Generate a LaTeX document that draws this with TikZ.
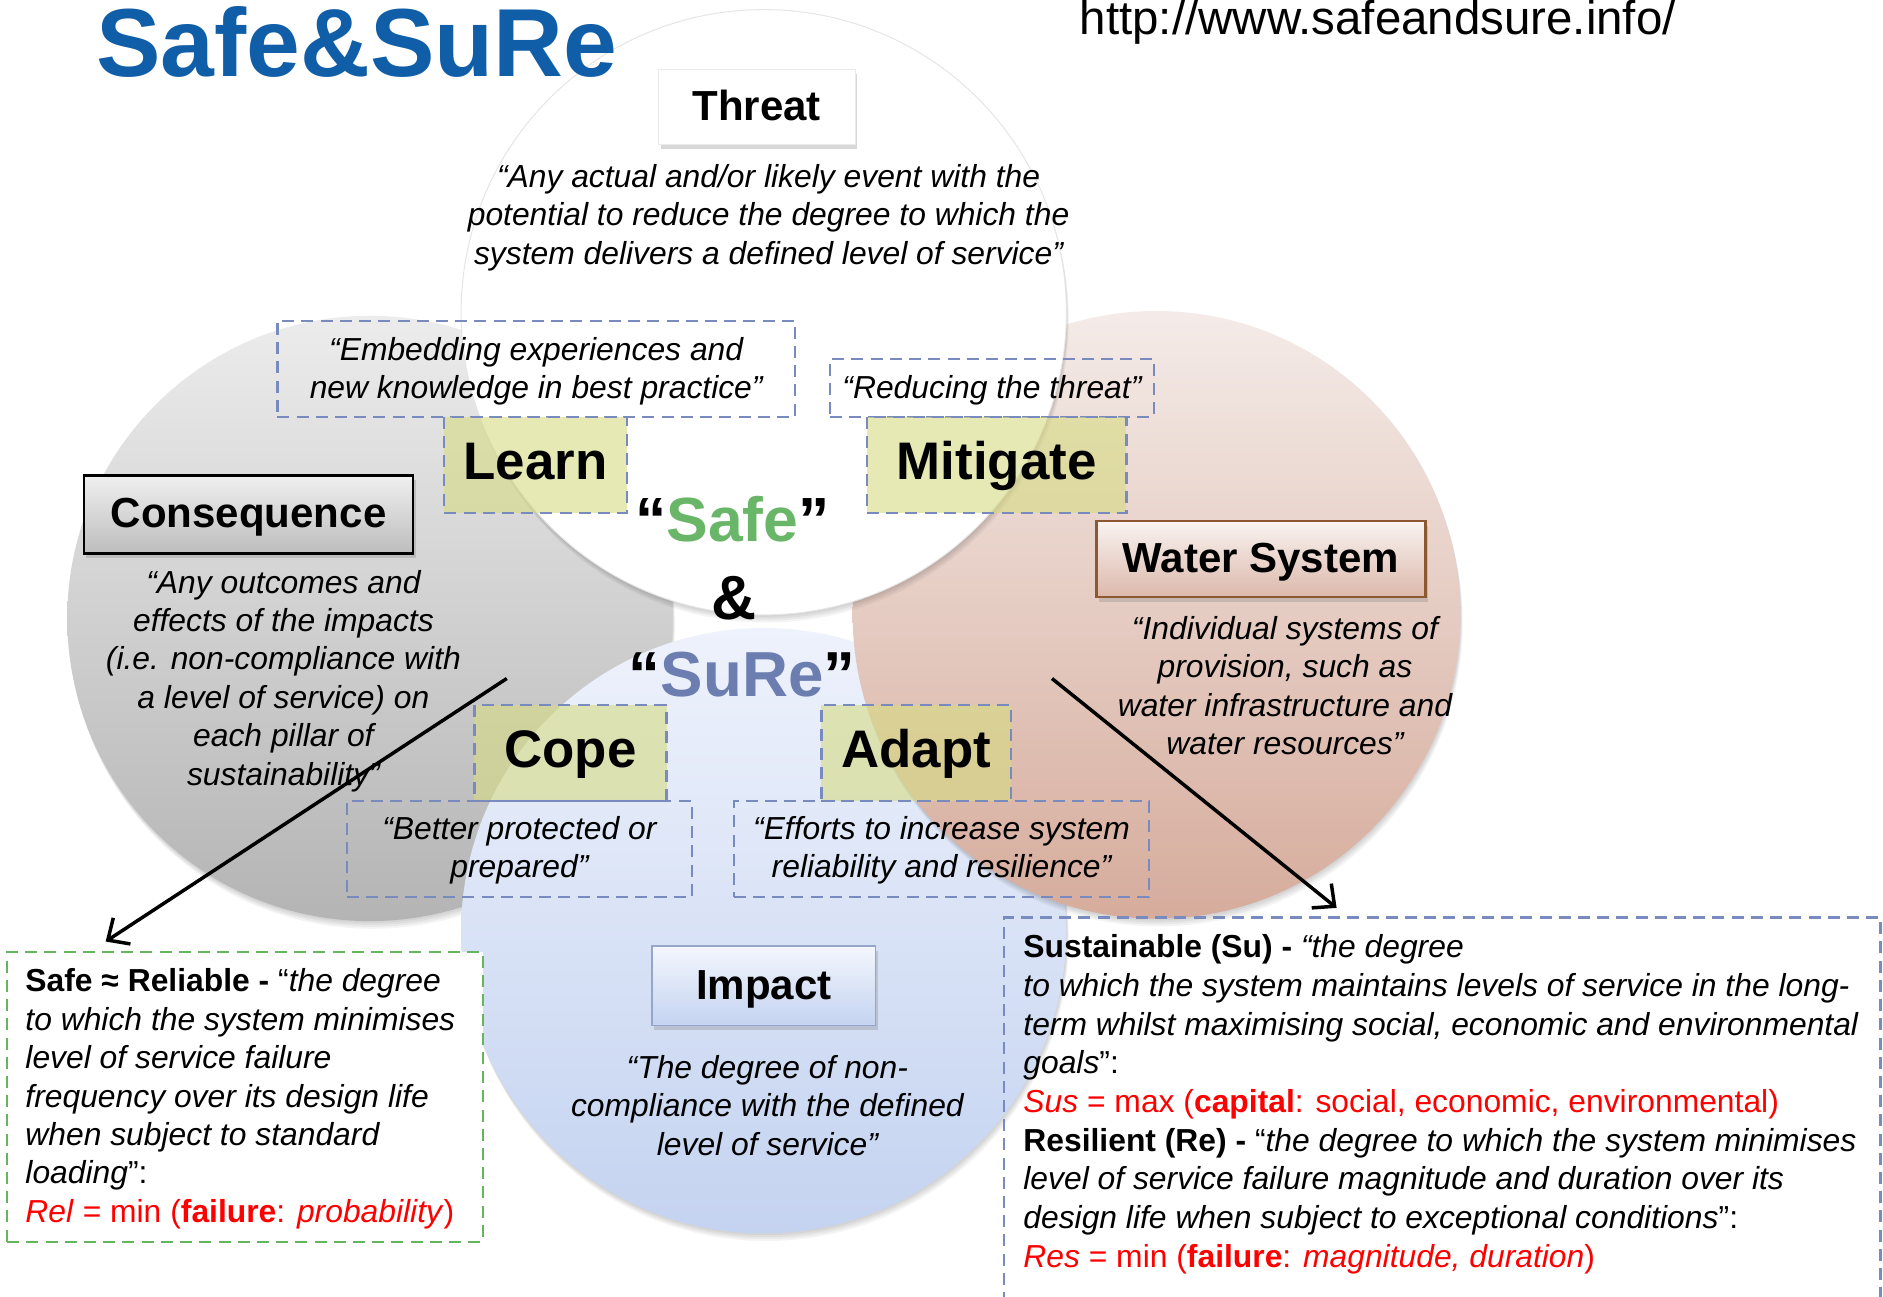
\documentclass[tikz,border=0pt]{standalone}
\usepackage{fontspec}
\setmainfont{Liberation Sans}
\usetikzlibrary{arrows.meta,shadows}
\definecolor{dashblue}{RGB}{120,138,190}
\definecolor{dashgreen}{RGB}{102,180,92}
\definecolor{yfill}{RGB}{214,219,130}
\definecolor{titleblue}{RGB}{16,94,168}
\definecolor{safegreen}{RGB}{106,182,104}
\definecolor{surebue}{RGB}{108,126,176}
\definecolor{greytop}{RGB}{236,236,236}
\definecolor{greybot}{RGB}{180,180,180}
\definecolor{pinktop}{RGB}{244,235,232}
\definecolor{pinkbot}{RGB}{214,172,156}
\definecolor{bluetop}{RGB}{238,242,252}
\definecolor{bluebot}{RGB}{196,211,240}
\definecolor{wsborder}{RGB}{140,88,48}
\definecolor{impborder}{RGB}{150,166,202}
\definecolor{myred}{RGB}{255,0,0}
\newcommand\dfnfont{\fontsize{26.5}{32}\selectfont\itshape}
\begin{document}
\begin{tikzpicture}[x=1pt,y=-1pt,
  dline/.style={draw=dashblue, dash pattern=on 10pt off 6pt, line width=1.9pt},
  dbox/.style={dline, inner sep=0pt, align=center, font=\dfnfont},
  gbox/.style={draw=dashgreen, dash pattern=on 10pt off 6pt, line width=1.9pt, fill=white, inner sep=0pt},
  ybox/.style={dline, fill=yfill, fill opacity=0.6, text opacity=1, inner sep=0pt,
    font=\fontsize{44}{44}\selectfont\bfseries, text height=32pt, text depth=8pt},
  tbox/.style={inner sep=0pt, font=\fontsize{35}{35}\selectfont\bfseries,
    text height=25pt, text depth=3pt,
    drop shadow={shadow xshift=2pt, shadow yshift=-4pt, opacity=0.3}},
  deftxt/.style={inner sep=0pt, align=center, anchor=north, font=\dfnfont},
  arr/.style={line width=2.9pt, -{Straight Barb[length=14pt, width=26pt, line width=2.9pt]}},
  csh/.style={fill=black, opacity=0.045}
]
\useasboundingbox (0,0) rectangle (1568,1080);
\fill[white] (0,0) rectangle (1568,1080);

% grey circle (Consequence)
\foreach \k in {1,...,4} \fill[csh] (308+0.5*\k,515+1.6*\k) circle[radius=252];
\shade[top color=greytop, bottom color=greybot] (308,515) circle[radius=252];
% blue circle (Impact)
\foreach \k in {1,...,4} \fill[csh] (636+0.5*\k,775+1.6*\k) circle[radius=252];
\shade[top color=bluetop, bottom color=bluebot] (636,775) circle[radius=252];
% pink circle (Water System)
\foreach \k in {1,...,4} \fill[csh] (963+0.5*\k,512+1.6*\k) circle[radius=253];
\shade[top color=pinktop, bottom color=pinkbot] (963,512) circle[radius=253];
% white circle (Threat)
\foreach \k in {1,...,4} \fill[csh] (636+0.5*\k,260+1.6*\k) circle[radius=252];
\fill[white, draw=black!10, line width=0.8pt] (636,260) circle[radius=252];

% title and url
\node[anchor=base west, inner sep=0pt, text=titleblue, font=\fontsize{80.5}{80}\selectfont\bfseries] (title) at (80,64) {Safe\&SuRe};
\node[anchor=base west, inner sep=0pt, font=\fontsize{39.5}{40}\selectfont] (url) at (899,29) {http://www.safeandsure.info/};

% Threat
\node[tbox, fill=white, draw=black!8, minimum width=164, minimum height=62] (threat) at (630,89) {Threat};
\node[deftxt] (threatdef) at (640,136.5) {“Any actual and/or likely event with the\\potential to reduce the degree to which the\\system delivers a defined level of service”};

% dashed quote boxes (top): frames, then their texts
\node[dline, inner sep=0pt, minimum width=431, minimum height=80] (embed) at (446.5,307) {};
\node[deftxt] (embedtxt) at (446.5,280.5) {“Embedding experiences and\\new knowledge in best practice”};
\node[dline, inner sep=0pt, minimum width=270, minimum height=48] (reduce) at (826,323) {};
\node[deftxt] (reducetxt) at (826,312.5) {“Reducing the threat”};

% yellow boxes
\node[ybox, minimum width=152, minimum height=80] (learn) at (446,387) {Learn};
\node[ybox, minimum width=216, minimum height=80] (mitigate) at (830,387) {Mitigate};
\node[ybox, minimum width=160, minimum height=80] (cope) at (475,627) {Cope};
\node[ybox, minimum width=158, minimum height=80] (adapt) at (763,627) {Adapt};

% dashed quote boxes (bottom)
\node[dline, inner sep=0pt, minimum width=287, minimum height=80] (better) at (432.5,707) {};
\node[deftxt] (bettertxt) at (432.5,679.5) {“Better protected or\\prepared”};
\node[dline, inner sep=0pt, minimum width=346, minimum height=80] (efforts) at (784,707) {};
\node[deftxt] (effortstxt) at (784,679.5) {“Efforts to increase system\\reliability and resilience”};

% centre words
\node[anchor=base, inner sep=0pt, font=\fontsize{52}{52}\selectfont\bfseries] (safe) at (610,451) {“\textcolor{safegreen}{Safe}”};
\node[anchor=base, inner sep=0pt, font=\fontsize{52}{52}\selectfont\bfseries] (amp) at (611,516) {\&};
\node[anchor=base, inner sep=0pt, font=\fontsize{53}{53}\selectfont\bfseries] (sure) at (618,580) {“\textcolor{surebue}{SuRe}”};

% Consequence
\node[tbox, draw=black, line width=2pt, top color=black!6, bottom color=black!26, minimum width=274, minimum height=65] (conseq) at (207,428.5) {Consequence};
\node[deftxt] (conseqdef) at (236,474.5) {“Any outcomes and\\effects of the impacts\\(i.e. non-compliance with\\a level of service) on\\each pillar of\\sustainability”};

% Water System
\node[tbox, draw=wsborder, line width=2pt, top color=pinktop!60!white, bottom color=pinkbot!85!white, minimum width=274, minimum height=63] (water) at (1050,465.5) {Water System};
\node[deftxt] (waterdef) at (1070,513) {“Individual systems of\\provision, such as\\water infrastructure and\\water resources”};

% Impact
\node[tbox, draw=impborder, line width=1.5pt, top color=bluetop!70!white, bottom color=bluebot, minimum width=186, minimum height=66] (impact) at (636,821) {Impact};
\node[deftxt] (impactdef) at (639,878.5) {“The degree of non-\\compliance with the defined\\level of service”};

% Safe ~ Reliable box
\node[gbox, anchor=north west, minimum width=396, minimum height=241] (relbox) at (5,792) {};
\node[anchor=north west, inner sep=0pt, align=left, font=\fontsize{26.5}{32}\selectfont] (reltxt) at (21,806.5) {%
\textbf{Safe ≈ Reliable -} “\textit{the degree}\\
\textit{to which the system minimises}\\
\textit{level of service failure}\\
\textit{frequency over its design life}\\
\textit{when subject to standard}\\
\textit{loading}”:\\
\textcolor{myred}{\textit{Rel} = min (\textbf{failure}: \textit{probability})}};

% Sustainable / Resilient box
\node[dline, fill=none, inner sep=0pt, anchor=north west, minimum width=730, minimum height=340] (susbox) at (835,763) {};
\node[anchor=north west, inner sep=0pt, align=left, font=\fontsize{26.5}{32.25}\selectfont] (sustxt) at (852,778) {%
\textbf{Sustainable (Su) -} \textit{“the degree}\\
\textit{to which the system maintains levels of service in the long-}\\
\textit{term whilst maximising social, economic and environmental}\\
\textit{goals}”:\\
\textcolor{myred}{\textit{Sus} = max (\textbf{capital}: social, economic, environmental)}\\
\textbf{Resilient (Re) -} “\textit{the degree to which the system minimises}\\
\textit{level of service failure magnitude and duration over its}\\
\textit{design life when subject to exceptional conditions}”:\\
\textcolor{myred}{\textit{Res} = min (\textbf{failure}: \textit{magnitude, duration})}};

% arrows
\coordinate (la0) at (422,565);
\coordinate (la1) at (88,784);
\coordinate (ra0) at (876,565);
\coordinate (ra1) at (1113,756);
\draw[arr] (la0) -- (la1);
\draw[arr] (ra0) -- (ra1);
\end{tikzpicture}
\end{document}
